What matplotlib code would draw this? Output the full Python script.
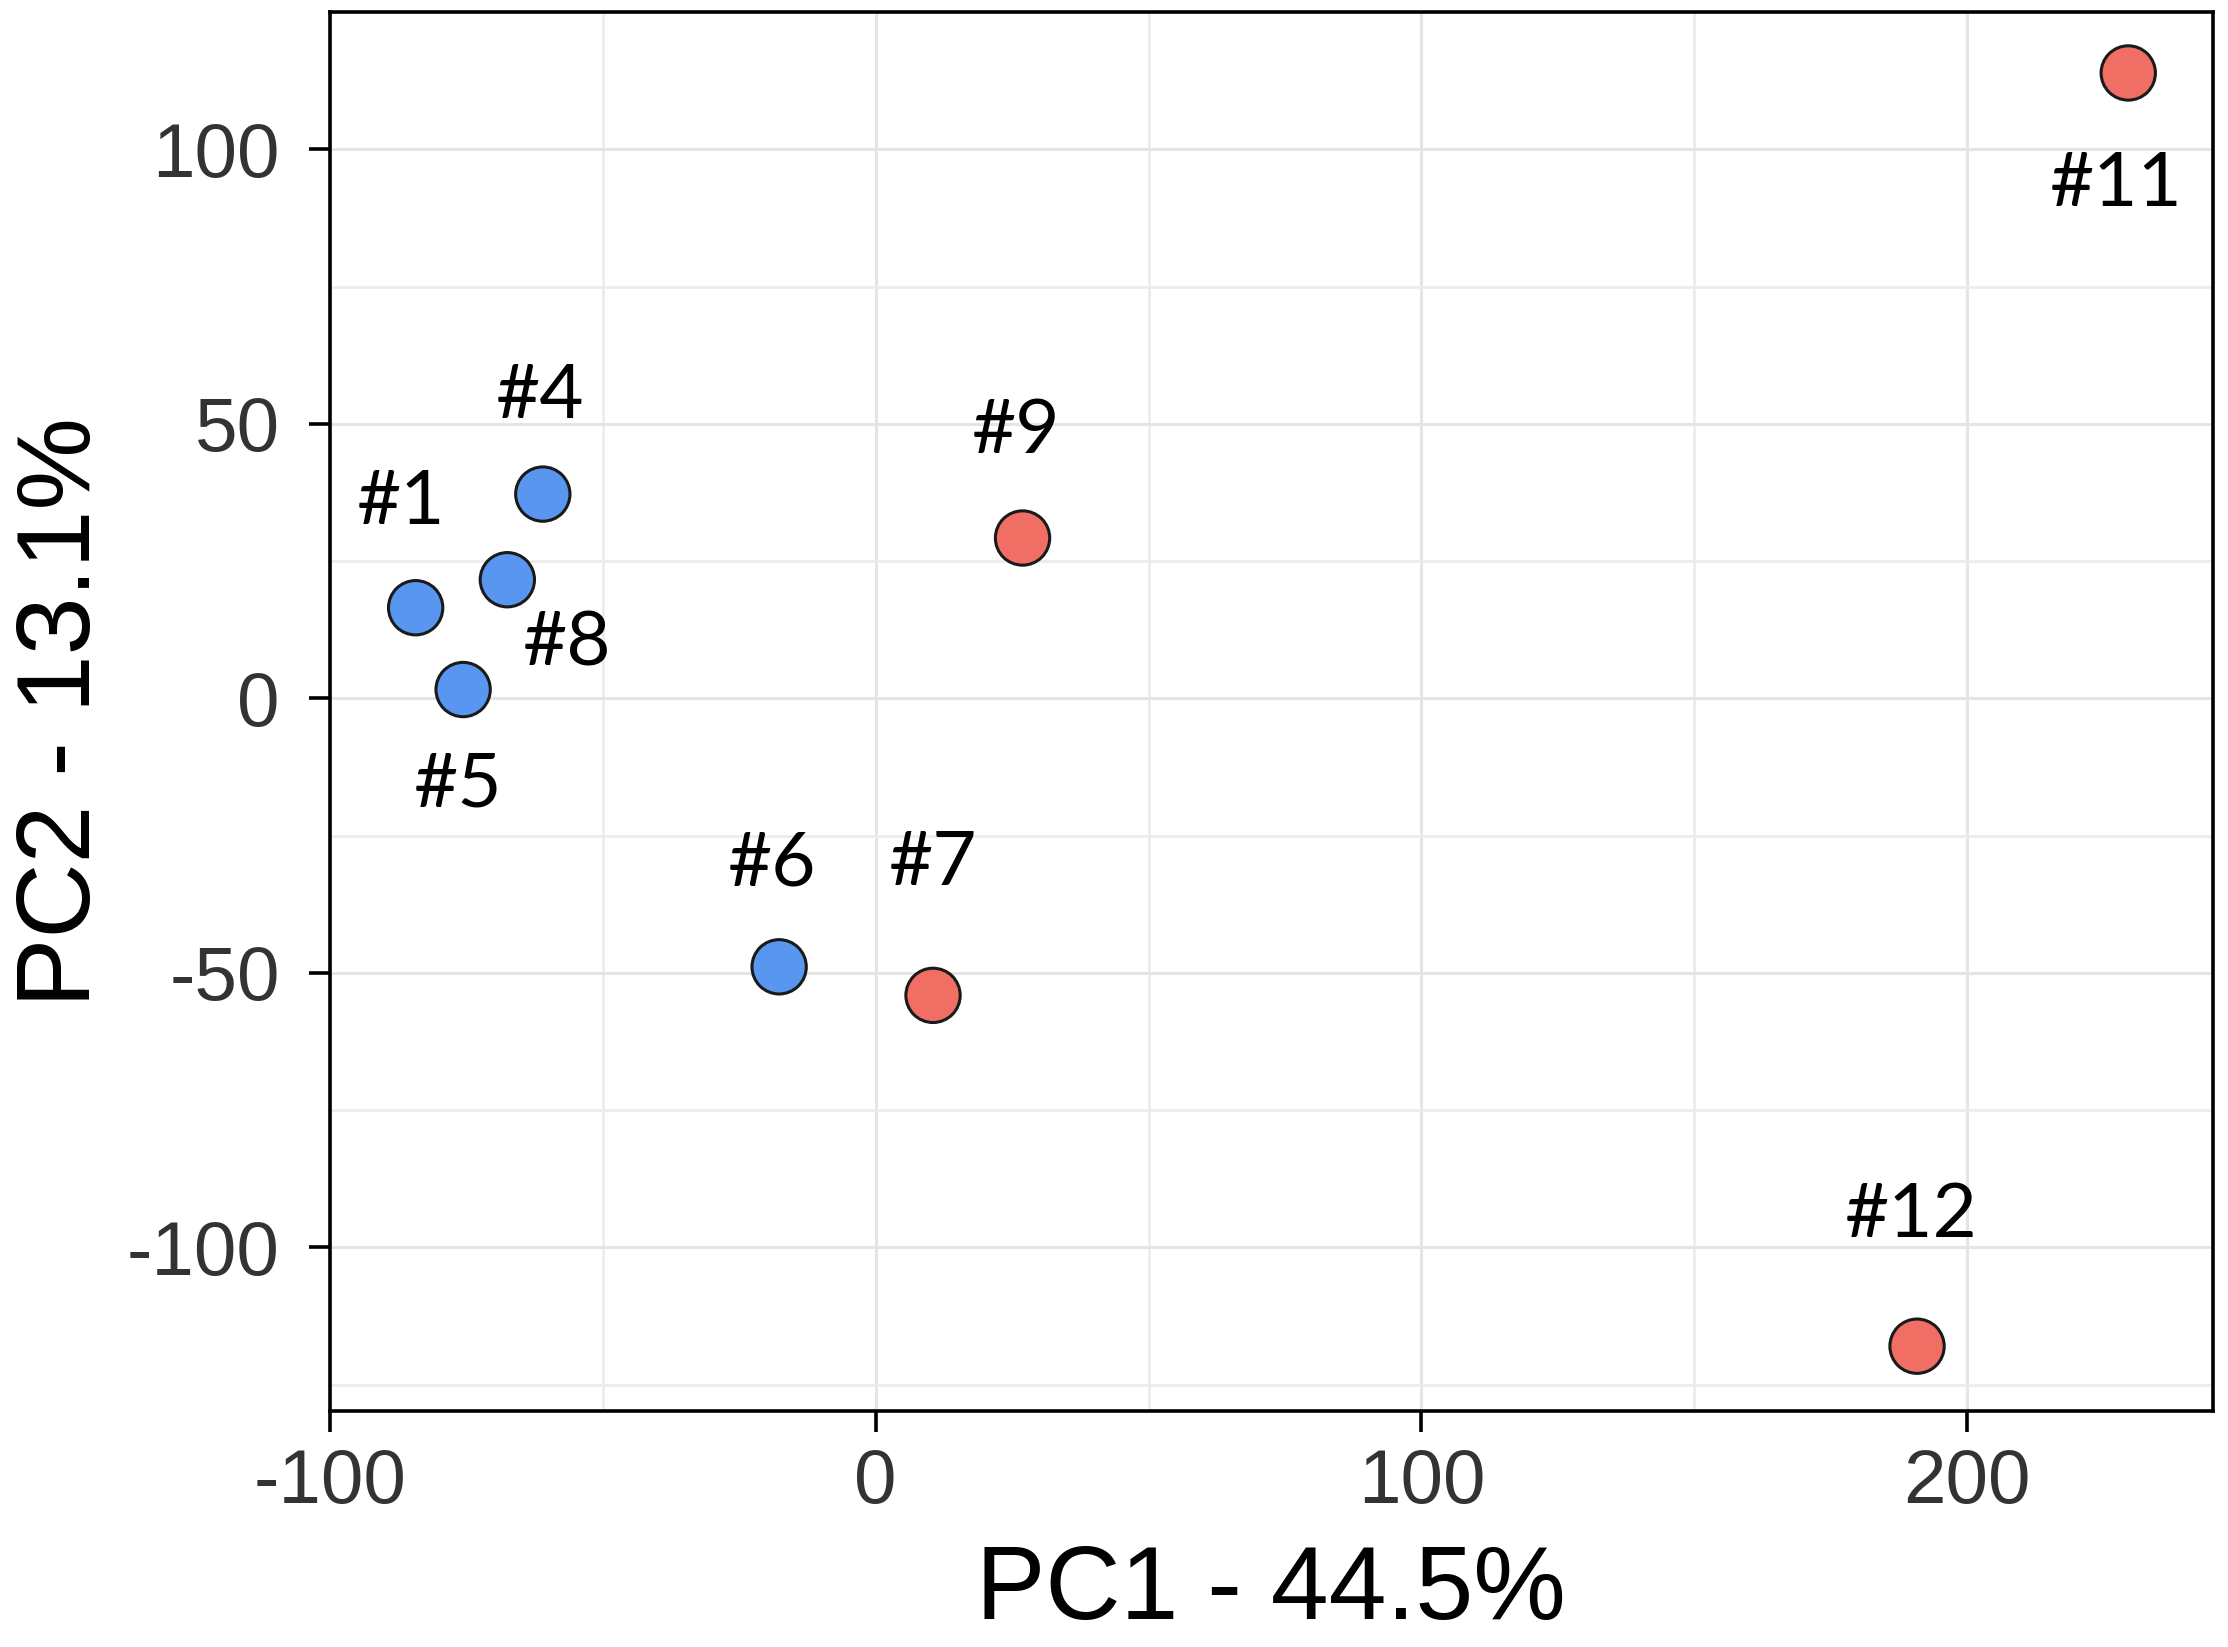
import numpy as np
import matplotlib
matplotlib.use("Agg")
import matplotlib.pyplot as plt
from matplotlib.ticker import MultipleLocator

plt.rcParams["axes.unicode_minus"] = False

# PCA scores.
samples = ["#1", "#4", "#8", "#5", "#6", "#7", "#9", "#11", "#12"]
pc1 = [-84.3, -61.0, -67.5, -75.6, -17.7, 10.5, 26.9, 229.5, 190.8]
pc2 = [16.5, 37.2, 21.6, 1.6, -48.9, -54.1, 29.2, 113.9, -118.0]
group = ["blue", "blue", "blue", "blue", "blue", "red", "red", "red", "red"]

# Label placement relative to each point (layout only).
label_dx = [-2.6, -0.5, 10.9, -0.8, -1.3, 0.0, -1.2, -2.1, -1.0]
label_dy = [15.2, 13.9, -15.7, -21.3, 14.9, 20.1, 15.4, -24.3, 19.8]

COLORS = {"blue": "#5896f0", "red": "#f06e64"}

fig = plt.figure(figsize=(22.28, 16.47), dpi=100)
ax = fig.add_axes([0.1481, 0.1433, 0.8451, 0.8494])

ax.set_xlim(-100, 245)
ax.set_ylim(-129.8, 125)

ax.xaxis.set_major_locator(MultipleLocator(100))
ax.xaxis.set_minor_locator(MultipleLocator(50))
ax.yaxis.set_major_locator(MultipleLocator(50))
ax.yaxis.set_minor_locator(MultipleLocator(25))

ax.grid(which="major", color="#e5e5e5", linewidth=2.2)
ax.grid(which="minor", color="#ececec", linewidth=2.0)
ax.set_axisbelow(True)

for s in ax.spines.values():
    s.set_color("black")
    s.set_linewidth(2.6)

ax.tick_params(which="major", length=15, width=2.6, color="black",
               labelsize=55, labelcolor="#333333")
ax.tick_params(axis="x", which="major", pad=12)
ax.tick_params(axis="y", which="major", pad=21)
ax.tick_params(which="minor", length=0)

for lab in ax.get_xticklabels() + ax.get_yticklabels():
    lab.set_family("Liberation Sans")

ax.scatter(pc1, pc2, s=1530, c=[COLORS[g] for g in group],
           edgecolors="#1a1a1a", linewidths=2.2, zorder=3)

for name, x, y, dx, dy in zip(samples, pc1, pc2, label_dx, label_dy):
    ax.text(x + dx, y + dy, name, ha="center", va="baseline",
            fontsize=55, family="Lato", color="black", zorder=4)

ax.set_xlabel("PC1 - 44.5%", fontsize=75, family="Liberation Sans",
              color="black", labelpad=18)
ax.set_ylabel("PC2 - 13.1%", fontsize=75, family="Liberation Sans",
              color="black", labelpad=11)

fig.savefig("out.png", dpi=100, facecolor="white")
